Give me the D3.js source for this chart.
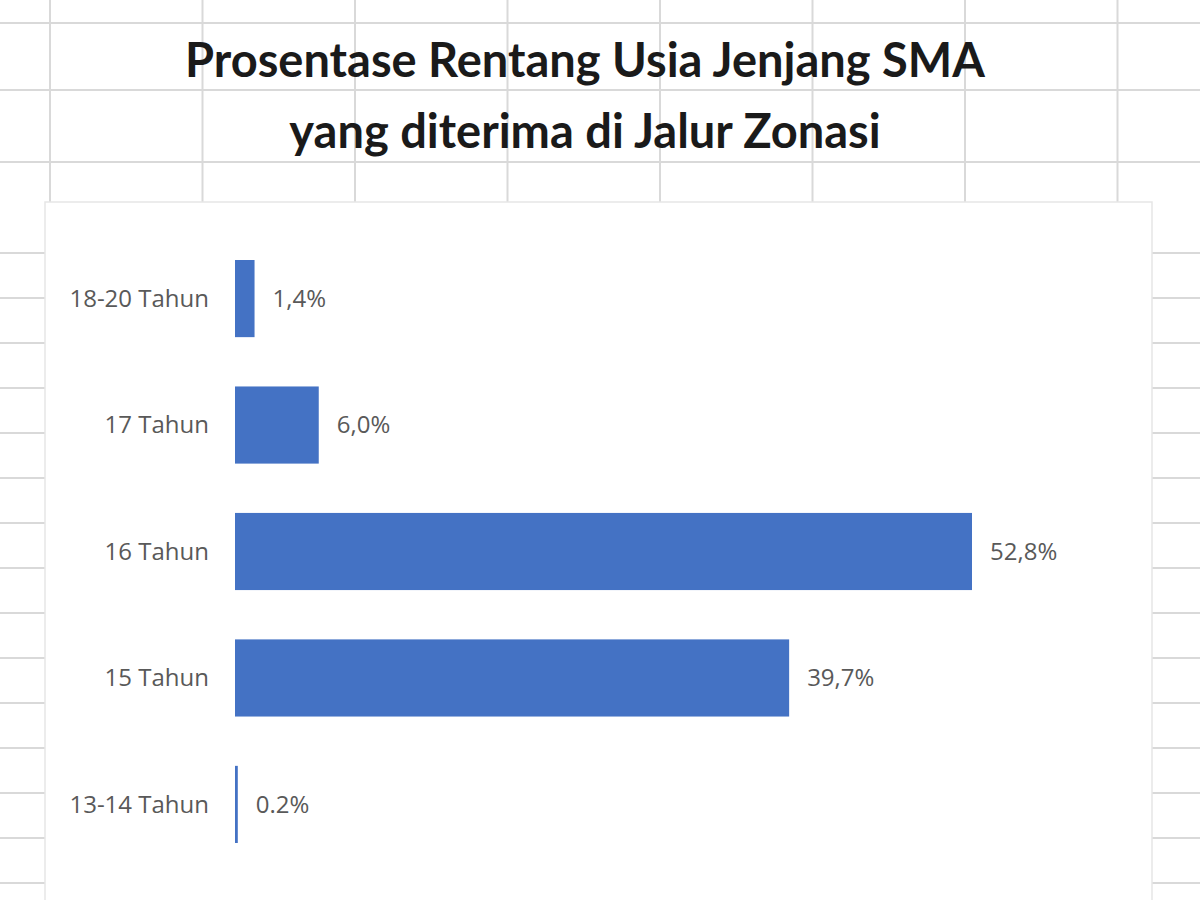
<!DOCTYPE html>
<html><head><meta charset="utf-8">
<script src="https://cdn.jsdelivr.net/npm/d3@7"></script>
<style>body{margin:0;background:#fff}</style></head>
<body><svg id="c" width="1200" height="900"></svg>
<script>
const categories = ["18-20 Tahun","17 Tahun","16 Tahun","15 Tahun","13-14 Tahun"];
const values = [1.4, 6.0, 52.8, 39.7, 0.2];
const valueLabels = ["1,4%","6,0%","52,8%","39,7%","0.2%"];
const titleLines = ["Prosentase Rentang Usia Jenjang SMA","yang diterima di Jalur Zonasi"];

const svg = d3.select("#c");
const grid = svg.append("g").attr("stroke","#d9d9d9").attr("stroke-width",2);
d3.range(50, 1200, 152.5).forEach(x => grid.append("line").attr("x1",x).attr("x2",x).attr("y1",0).attr("y2",900));
[23, 90, 162].forEach(y => grid.append("line").attr("x1",0).attr("x2",1200).attr("y1",y).attr("y2",y));
d3.range(253, 900, 45).forEach(y => grid.append("line").attr("x1",0).attr("x2",1200).attr("y1",y).attr("y2",y));

svg.append("rect").attr("x",45).attr("y",202).attr("width",1107).attr("height",710)
  .attr("fill","#fff").attr("stroke","#e6e6e6").attr("stroke-width",1.5);

svg.append("text").attr("text-anchor","middle").attr("font-family","Lato, 'Open Sans', sans-serif")
  .attr("font-weight","bold").attr("font-size",47).attr("fill","#1a1a1a")
  .selectAll("tspan").data(titleLines).join("tspan")
  .attr("x",585).attr("y",(d,i)=>77+i*71).text(d=>d);

const x = d3.scaleLinear().domain([0, 52.8]).range([235, 972]);
const y = d3.scaleBand().domain(categories).range([260, 843]).paddingInner(0.39).paddingOuter(0);

svg.append("g").selectAll("rect").data(values).join("rect")
  .attr("x", x(0)).attr("y",(d,i)=>y(categories[i]))
  .attr("width", d=>Math.max(x(d)-x(0),2)).attr("height", y.bandwidth())
  .attr("fill","#4472C4");

const font = "'Open Sans', sans-serif";
svg.append("g").selectAll("text").data(categories).join("text")
  .attr("x",209).attr("y",d=>y(d)+y.bandwidth()/2).attr("dy","0.35em")
  .attr("text-anchor","end").attr("font-family",font).attr("font-size",24).attr("fill","#595959").text(d=>d);

svg.append("g").selectAll("text").data(values).join("text")
  .attr("x",d=>Math.max(x(d),237)+18).attr("y",(d,i)=>y(categories[i])+y.bandwidth()/2).attr("dy","0.35em")
  .attr("font-family",font).attr("font-size",24).attr("fill","#595959").text((d,i)=>valueLabels[i]);
</script></body></html>
